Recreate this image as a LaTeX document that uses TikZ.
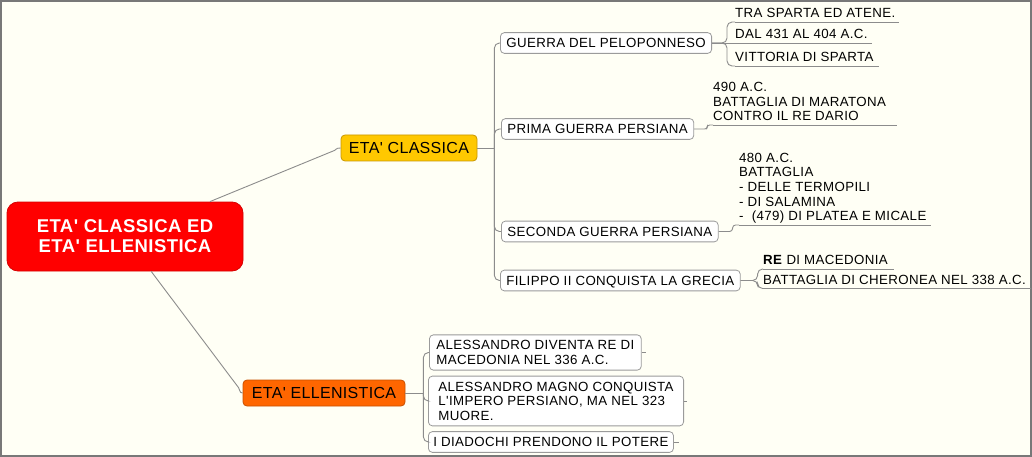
\documentclass[tikz,border=0pt]{standalone}
\usepackage{fontspec}
\setmainfont{Liberation Sans}[Ligatures=TeXOff]
\newfontfamily\fsmall{Liberation Sans}[Ligatures=TeXOff, LetterSpace=2.8]
\newfontfamily\fmid{Liberation Sans}[Ligatures=TeXOff, LetterSpace=2]
\newfontfamily\froot{Liberation Sans}[Ligatures=TeXOff, LetterSpace=2.4]
\usetikzlibrary{calc}
\definecolor{bg}{RGB}{255,255,245}
\definecolor{framec}{RGB}{120,120,120}
\definecolor{connc}{RGB}{140,140,140}
\definecolor{boxline}{RGB}{155,155,155}
\definecolor{rootred}{RGB}{255,0,0}
\definecolor{rootline}{RGB}{215,0,0}
\definecolor{classfill}{RGB}{255,200,0}
\definecolor{classline}{RGB}{200,150,0}
\definecolor{ellfill}{RGB}{255,102,0}
\definecolor{ellline}{RGB}{200,80,0}
\newcommand{\mlines}[1]{\vbox{#1}}
\tikzset{
  conn/.style={draw=connc, line width=0.9pt},
  rootbox/.style={draw=rootline, fill=rootred, rounded corners=11pt,
    minimum width=236pt, minimum height=69pt, text=white,
    font=\froot\fontsize{18.5}{20}\selectfont\bfseries, align=center, line width=0.8pt},
  mainbox/.style={rounded corners=4pt, minimum height=26pt,
    font=\fmid\fontsize{16}{18}\selectfont, inner sep=0pt, line width=0.8pt},
  topicbox/.style={draw=boxline, fill=white, rounded corners=4pt,
    font=\fsmall\fontsize{13.3}{14.5}\selectfont, text depth=0pt,
    inner xsep=6pt, inner ysep=5.75pt, anchor=west, line width=0.8pt},
  leaf/.style={font=\fsmall\fontsize{13.3}{14.7}\selectfont, text depth=0pt,
    inner xsep=0pt, inner ysep=4pt, anchor=south west},
  uline/.style={conn},
}
\begin{document}
\begin{tikzpicture}[x=1pt,y=-1pt]
\useasboundingbox (0,0) rectangle (1032,457);
\fill[bg] (0,0) rectangle (1032,457);
\draw[framec, line width=2pt] (1,1) rectangle (1031,456);

% main nodes
\node[rootbox] (root) at (125,236.5) {ETA' CLASSICA ED\\ETA' ELLENISTICA};
\node[mainbox, draw=classline, fill=classfill, minimum width=136pt] (ec) at (409,148) {ETA' CLASSICA};
\node[mainbox, draw=ellline, fill=ellfill, minimum width=162pt] (el) at (324,393) {ETA' ELLENISTICA};

% topics of eta classica
\node[topicbox] (g) at (500,43) {GUERRA DEL PELOPONNESO};
\node[topicbox] (p1) at (501,129) {PRIMA GUERRA PERSIANA};
\node[topicbox] (p2) at (501,231.5) {SECONDA GUERRA PERSIANA};
\node[topicbox] (f) at (500,280.5) {FILIPPO II CONQUISTA LA GRECIA};

% leaves
\node[leaf] (t1) at (735,22) {TRA SPARTA ED ATENE.};
\node[leaf] (t2) at (735,43) {DAL 431 AL 404 A.C.};
\node[leaf] (t3) at (735,66) {VITTORIA DI SPARTA};
\node[leaf] (m1) at (713,125) {\mlines{\hbox{490 A.C.}\hbox{BATTAGLIA DI MARATONA}\hbox{CONTRO IL RE DARIO}}};
\node[leaf] (s1) at (739,225) {\mlines{\hbox{480 A.C.}\hbox{BATTAGLIA}\hbox{- DELLE TERMOPILI}\hbox{- DI SALAMINA}\hbox{- \ (479) DI PLATEA E MICALE}}};
\node[leaf] (r1) at (763,269) {\textbf{RE} DI MACEDONIA};
\node[leaf] (r2) at (763,288.5) {BATTAGLIA DI CHERONEA NEL 338 A.C.};

% topics of eta ellenistica
\node[topicbox, inner xsep=7pt] (b1) at (429,352.5) {\mlines{\hbox{ALESSANDRO DIVENTA RE DI}\hbox{MACEDONIA NEL 336 A.C.}}};
\node[topicbox, inner xsep=10pt] (b2) at (428,401) {\mlines{\hbox{ALESSANDRO MAGNO CONQUISTA}\hbox{L'IMPERO PERSIANO, MA NEL 323}\hbox{MUORE.}}};
\node[topicbox, inner xsep=5pt] (b3) at (428,442) {I DIADOCHI PRENDONO IL POTERE};

% root connectors
\draw[conn] (root) -- ($(ec.west)+(-6,2.4)$) .. controls ($(ec.west)+(-3,0)$) .. (ec.west);
\draw[conn] (root) -- ($(el.west)+(-4,-5.3)$) .. controls ($(el.west)+(-2,0)$) .. (el.west);

% eta classica trunk
\draw[conn] (ec.east) -- ++(17,0) coordinate (ecj);
\draw[conn, rounded corners=5pt] (ecj) |- (g.west);
\draw[conn, rounded corners=5pt] (ecj) |- (p1.west);
\draw[conn, rounded corners=5pt] (ecj) |- (p2.west);
\draw[conn, rounded corners=5pt] (ecj) |- (f.west);

% guerra leaves
\draw[conn, rounded corners=5pt] (g.east) -- ++(15,0) |- (t1.south west);
\draw[conn] (g.east) -- (t2.south west);
\draw[conn, rounded corners=5pt] (g.east) -- ++(15,0) |- (t3.south west);
\draw[uline] (t1.south west) -- ([xshift=3]t1.south east);
\draw[uline] (t2.south west) -- ([xshift=4]t2.south east);
\draw[uline] (t3.south west) -- ([xshift=5]t3.south east);

% prima
\draw[conn, rounded corners=2.5pt] (p1.east) -- ++(13,0) |- (m1.south west);
\draw[uline] (m1.south west) -- ([xshift=11]m1.south east);

% seconda
\draw[conn, rounded corners=3pt] (p2.east) -- ++(14,0) |- (s1.south west);
\draw[uline] (s1.south west) -- ([xshift=4]s1.south east);

% filippo
\draw[conn, rounded corners=5pt] (f.east) -- ++(17,0) |- (r1.south west);
\draw[conn, rounded corners=5pt] (f.east) -- ++(17,0) |- (r2.south west);
\draw[uline] (r1.south west) -- ([xshift=6]r1.south east);
\draw[uline] (r2.south west) -- ([xshift=5]r2.south east);

% eta ellenistica trunk
\draw[conn] (el.east) -- ++(18,0) coordinate (elj);
\draw[conn, rounded corners=5pt] (elj) |- (b1.west);
\draw[conn, rounded corners=5pt] (elj) |- (b2.west);
\draw[conn, rounded corners=5pt] (elj) |- (b3.west);
\draw[conn] (b1.east) -- ++(4,0);
\draw[conn] (b2.east) -- ++(3,0);
\draw[conn] (b3.east) -- ++(5,0);
\end{tikzpicture}
\end{document}
